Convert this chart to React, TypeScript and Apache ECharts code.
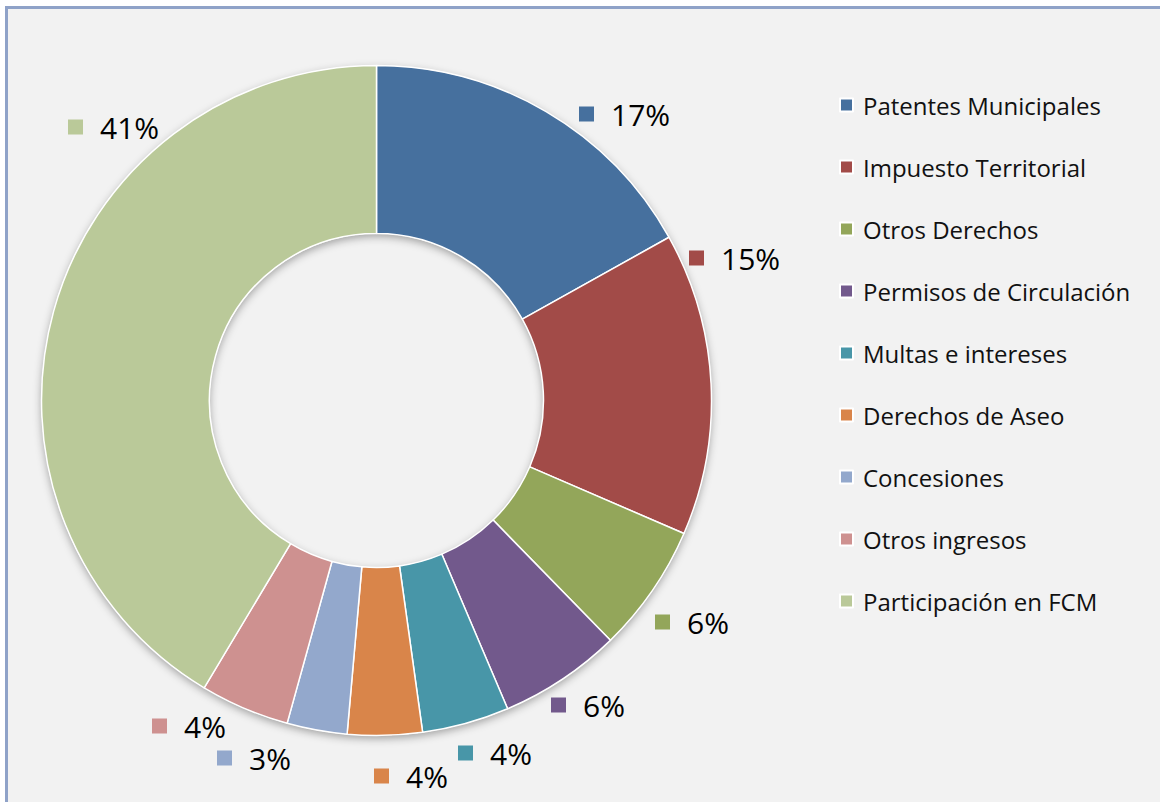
import React, { useEffect, useRef } from "react";
import * as echarts from "echarts";

const CATEGORIES = [
  "Patentes Municipales",
  "Impuesto Territorial",
  "Otros Derechos",
  "Permisos de Circulación",
  "Multas e intereses",
  "Derechos de Aseo",
  "Concesiones",
  "Otros ingresos",
  "Participación en FCM",
];
const VALUES = [16.9, 14.6, 6.2, 5.9, 4.2, 3.6, 2.9, 4.3, 41.4];
const COLORS = [
  "#46709E",
  "#A24B48",
  "#93A65A",
  "#72598C",
  "#4896A8",
  "#D9854A",
  "#93A8CC",
  "#CE9190",
  "#BAC999",
];
// label anchors (page pixels, left edge of marker square / vertical middle)
const LABEL_ANCHORS: [number, number][] = [
  [579, 114],
  [689, 258],
  [655, 622],
  [551, 705],
  [458, 753],
  [374, 776],
  [217, 758],
  [152, 726],
  [68, 127],
];

const OX = 8;
const OY = 9;
const FONT = "'Open Sans', 'Noto Sans', sans-serif";

export default function App() {
  const ref = useRef<HTMLDivElement>(null);
  useEffect(() => {
    if (!ref.current) return;
    const chart = echarts.init(ref.current, undefined, { renderer: "svg" });
    const data = CATEGORIES.map((name, i) => ({
      name,
      value: VALUES[i],
      itemStyle: { color: COLORS[i] },
      label: {
        rich: {
          s: { width: 15, height: 15, backgroundColor: COLORS[i] },
          t: {
            fontSize: 30,
            fontFamily: FONT,
            color: "#000",
            padding: [0, 0, 0, 17],
          },
        },
      },
    }));
    chart.setOption({
      animation: false,
      backgroundColor: "#f2f2f2",
      legend: {
        orient: "vertical",
        left: 826,
        top: 76,
        icon: "rect",
        itemWidth: 13,
        itemHeight: 13,
        itemGap: 32,
        data: CATEGORIES,
        textStyle: {
          fontSize: 24,
          fontFamily: FONT,
          color: "#111",
          lineHeight: 30,
          padding: [0, 0, 0, 5],
        },
        selectedMode: false,
      },
      series: [
        {
          type: "pie",
          silent: true,
          z: 1,
          center: [376.5 - OX, 400.5 - OY],
          radius: [167, 335],
          label: { show: false },
          labelLine: { show: false },
          itemStyle: {
            color: "#d8d8d8",
            shadowBlur: 8,
            shadowOffsetY: 3,
            shadowColor: "rgba(0,0,0,0.35)",
          },
          data: [{ name: "_shadow", value: 1 }],
        },
        {
          type: "pie",
          z: 2,
          center: [376.5 - OX, 400.5 - OY],
          radius: [167, 335],
          startAngle: 90,
          clockwise: true,
          avoidLabelOverlap: false,
          itemStyle: { borderColor: "#ffffff", borderWidth: 1.5 },
          label: {
            show: true,
            position: "outside",
            formatter: (p: any) => `{s|}{t|${Math.round(p.percent)}%}`,
          },
          labelLine: { show: false },
          labelLayout: (params: any) => {
            const a = LABEL_ANCHORS[params.dataIndex];
            return {
              x: a[0] - OX,
              y: a[1] - OY,
              align: "left",
              verticalAlign: "middle",
            };
          },
          data,
        },
      ],
    });
    return () => chart.dispose();
  }, []);
  return (
    <div
      style={{
        position: "absolute",
        left: 5,
        top: 6,
        width: 1155,
        height: 796,
        boxSizing: "border-box",
        borderLeft: "3px solid #8fa2c8",
        borderTop: "3px solid #8fa2c8",
        background: "#f2f2f2",
        overflow: "hidden",
      }}
    >
      <div ref={ref} style={{ width: 1152, height: 793 }} />
    </div>
  );
}
